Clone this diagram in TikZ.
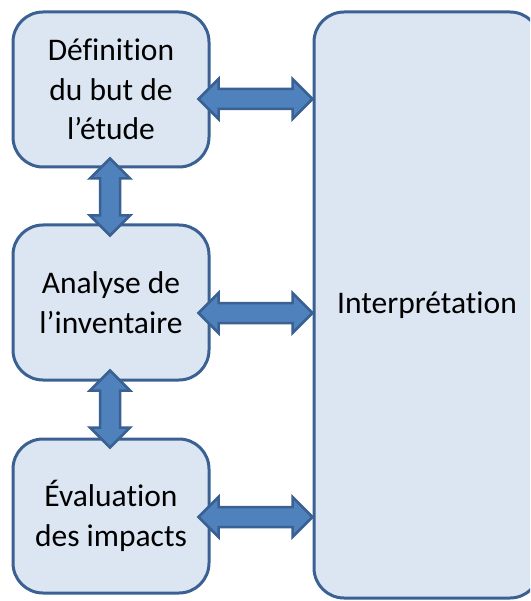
\documentclass[tikz,border=0pt]{standalone}
\usepackage{fontspec}
\setmainfont{Carlito}[Ligatures={NoCommon}]
\usetikzlibrary{calc}
\definecolor{boxfill}{HTML}{DCE6F2}
\definecolor{boxline}{HTML}{3A6192}
\definecolor{arrfill}{HTML}{4F81BD}
\tikzset{
  stage/.style={draw=boxline, line width=3pt, fill=boxfill, rounded corners=30pt,
    align=center, font=\fontsize{31.5}{39.5}\selectfont, text=black, inner sep=0pt},
  dblarrow/.style={draw=boxline, line width=2.5pt, fill=arrfill, line join=miter}
}
% horizontal double arrow between two points at the same height
\newcommand\harrow[2]{%
  \draw[dblarrow] (#1) -- ($(#1)+(20,-20)$) -- ($(#1)+(20,-10)$) -- ($(#2)+(-20,-10)$)
    -- ($(#2)+(-20,-20)$) -- (#2) -- ($(#2)+(-20,20)$) -- ($(#2)+(-20,10)$)
    -- ($(#1)+(20,10)$) -- ($(#1)+(20,20)$) -- cycle;}
% vertical double arrow between two points on the same vertical
\newcommand\varrow[2]{%
  \draw[dblarrow] (#1) -- ($(#1)+(20,20)$) -- ($(#1)+(10,20)$) -- ($(#2)+(10,-20)$)
    -- ($(#2)+(20,-20)$) -- (#2) -- ($(#2)+(-20,-20)$) -- ($(#2)+(-10,-20)$)
    -- ($(#1)+(-10,20)$) -- ($(#1)+(-20,20)$) -- cycle;}
\begin{document}
\begin{tikzpicture}[x=1pt,y=-1pt]
  \useasboundingbox (0,0) rectangle (530,601);
  \clip (0,0) rectangle (530,601);
  \fill[white] (0,0) rectangle (530,601);

  % the four stages
  \node[stage, minimum width=196pt, minimum height=155pt] (def) at (111,89.5)
    {Définition\\du but de\\l’étude};
  \node[stage, minimum width=196pt, minimum height=155pt] (inv) at (111,302.5)
    {Analyse de\\l’inventaire};
  \node[stage, minimum width=196pt, minimum height=154pt] (eval) at (111,516)
    {Évaluation\\des impacts};
  \node[stage, minimum width=226pt, minimum height=586pt] (interp) at (427,305)
    {Interprétation};

  % arrow end points
  \coordinate (d1) at ($(def.east)+(-12,9.5)$);
  \coordinate (i1) at (interp.west |- d1);
  \coordinate (d2) at ($(inv.east)+(-12,10.5)$);
  \coordinate (i2) at (interp.west |- d2);
  \coordinate (d3) at ($(eval.east)+(-12,1)$);
  \coordinate (i3) at (interp.west |- d3);
  \coordinate (v1a) at ($(def.south)+(-1,-10)$);
  \coordinate (v1b) at ($(inv.north)+(-1,12)$);
  \coordinate (v2a) at ($(inv.south)+(-1,-11)$);
  \coordinate (v2b) at ($(eval.north)+(-1,10)$);

  \harrow{d1}{i1}
  \harrow{d2}{i2}
  \harrow{d3}{i3}
  \varrow{v1a}{v1b}
  \varrow{v2a}{v2b}
\end{tikzpicture}
\end{document}
